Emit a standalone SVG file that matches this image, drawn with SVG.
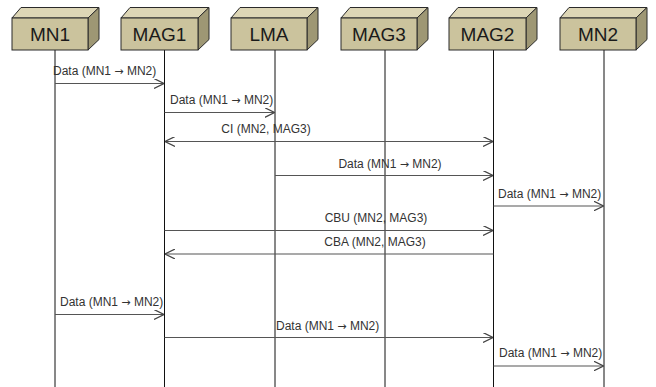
<svg xmlns="http://www.w3.org/2000/svg" width="656" height="387" viewBox="0 0 656 387">
<defs>
<style>
.front{fill:#cbc39d;stroke:#2a2a2a;stroke-width:1}
.top{fill:#ddd6b6;stroke:#2a2a2a;stroke-width:1}
.side{fill:#9e9774;stroke:#2a2a2a;stroke-width:1}
.name{font-family:"Liberation Sans",Arial,sans-serif;font-size:19px;fill:#1a1a1a;text-anchor:middle}
.life{stroke:#111;stroke-width:1}
.msg{stroke:#555;stroke-width:1.2;fill:none}
.lbl{font-family:"Liberation Sans",Arial,sans-serif;font-size:12px;fill:#333}
.ar{font-family:"DejaVu Sans",sans-serif;font-size:11px}
.mid{text-anchor:middle}
</style>
<marker id="ah" viewBox="0 0 10 10" refX="10" refY="5" markerWidth="10" markerHeight="10" markerUnits="userSpaceOnUse" orient="auto-start-reverse">
<path d="M0,0 L10,5 L0,10" fill="none" stroke="#444" stroke-width="1.2"/>
</marker>
</defs>
<rect width="656" height="387" fill="#fff"/>
<g id="lifelines">
<line class="life" x1="55" y1="50" x2="55" y2="387"/>
<line class="life" x1="164.5" y1="50" x2="164.5" y2="387"/>
<line class="life" x1="275" y1="50" x2="275" y2="387"/>
<line class="life" x1="385" y1="50" x2="385" y2="387"/>
<line class="life" x1="493.5" y1="50" x2="493.5" y2="387"/>
<line class="life" x1="604" y1="50" x2="604" y2="387"/>
</g>
<g id="MN1">
<path class="top" d="M12,18 L21,7.5 L99,7.5 L88,18 Z"/>
<path class="side" d="M88,18 L99,7.5 L99,39.5 L88,50 Z"/>
<rect class="front" x="12" y="18" width="76" height="32"/>
<text class="name" x="50" y="41">MN1</text>
</g>
<g id="MAG1">
<path class="top" d="M121,18 L130,7.5 L209,7.5 L198,18 Z"/>
<path class="side" d="M198,18 L209,7.5 L209,39.5 L198,50 Z"/>
<rect class="front" x="121" y="18" width="77" height="32"/>
<text class="name" x="159.5" y="41">MAG1</text>
</g>
<g id="LMA">
<path class="top" d="M231,18 L240,7.5 L318,7.5 L307,18 Z"/>
<path class="side" d="M307,18 L318,7.5 L318,39.5 L307,50 Z"/>
<rect class="front" x="231" y="18" width="76" height="32"/>
<text class="name" x="269" y="41">LMA</text>
</g>
<g id="MAG3">
<path class="top" d="M341,18 L350,7.5 L428,7.5 L417,18 Z"/>
<path class="side" d="M417,18 L428,7.5 L428,39.5 L417,50 Z"/>
<rect class="front" x="341" y="18" width="76" height="32"/>
<text class="name" x="379" y="41">MAG3</text>
</g>
<g id="MAG2">
<path class="top" d="M449,18 L458,7.5 L537,7.5 L526,18 Z"/>
<path class="side" d="M526,18 L537,7.5 L537,39.5 L526,50 Z"/>
<rect class="front" x="449" y="18" width="77" height="32"/>
<text class="name" x="487.5" y="41">MAG2</text>
</g>
<g id="MN2">
<path class="top" d="M560,18 L569,7.5 L647,7.5 L636,18 Z"/>
<path class="side" d="M636,18 L647,7.5 L647,39.5 L636,50 Z"/>
<rect class="front" x="560" y="18" width="76" height="32"/>
<text class="name" x="598" y="41">MN2</text>
</g>
<g id="connectors">
<line class="msg" x1="55" y1="83.5" x2="164" y2="83.5" marker-end="url(#ah)"/>
<line class="msg" x1="164.5" y1="112.5" x2="274.5" y2="112.5" marker-end="url(#ah)"/>
<line class="msg" x1="165" y1="141.5" x2="493" y2="141.5" marker-start="url(#ah)" marker-end="url(#ah)"/>
<line class="msg" x1="275" y1="175.5" x2="493" y2="175.5" marker-end="url(#ah)"/>
<line class="msg" x1="493.5" y1="206" x2="603.5" y2="206" marker-end="url(#ah)"/>
<line class="msg" x1="164.5" y1="230.5" x2="493" y2="230.5" marker-end="url(#ah)"/>
<line class="msg" x1="493.5" y1="254" x2="165" y2="254" marker-end="url(#ah)"/>
<line class="msg" x1="55" y1="314.5" x2="164" y2="314.5" marker-end="url(#ah)"/>
<line class="msg" x1="164.5" y1="337.5" x2="493" y2="337.5" marker-end="url(#ah)"/>
<line class="msg" x1="493.5" y1="366" x2="603.5" y2="366" marker-end="url(#ah)"/>
</g>
<g id="labels">
<text class="lbl" x="53" y="75">Data (MN1 <tspan class="ar">→</tspan> MN2)</text>
<text class="lbl" x="170" y="104">Data (MN1 <tspan class="ar">→</tspan> MN2)</text>
<text class="lbl mid" x="266" y="133">CI (MN2, MAG3)</text>
<text class="lbl mid" x="390" y="168">Data (MN1 <tspan class="ar">→</tspan> MN2)</text>
<text class="lbl" x="498" y="198">Data (MN1 <tspan class="ar">→</tspan> MN2)</text>
<text class="lbl mid" x="376" y="222">CBU (MN2, MAG3)</text>
<text class="lbl mid" x="375" y="246">CBA (MN2, MAG3)</text>
<text class="lbl" x="60" y="306">Data (MN1 <tspan class="ar">→</tspan> MN2)</text>
<text class="lbl" x="276" y="330">Data (MN1 <tspan class="ar">→</tspan> MN2)</text>
<text class="lbl" x="499" y="357">Data (MN1 <tspan class="ar">→</tspan> MN2)</text>
</g>
</svg>
